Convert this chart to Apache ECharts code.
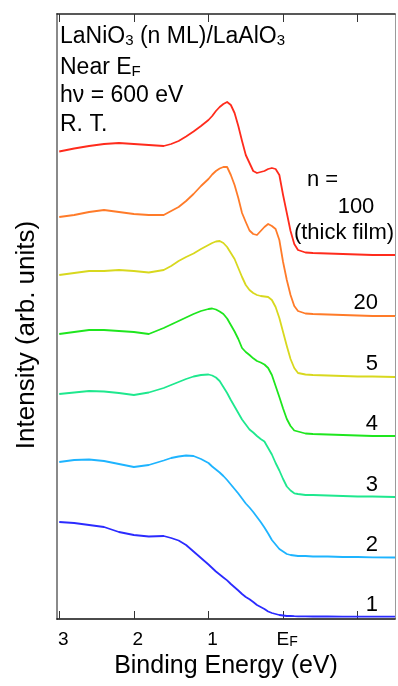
<!DOCTYPE html>
<html>
<head>
<meta charset="utf-8">
<title>LaNiO3 near EF</title>
<script src="https://cdn.jsdelivr.net/npm/echarts@6.0.0/dist/echarts.min.js"></script>
<style>
  html, body { margin: 0; padding: 0; background: #fff; }
  #chart { width: 398px; height: 686px; }
</style>
</head>
<body>
<div id="chart"></div>
<script>
// binding energy grid in eV (E_F = 0, negative = above E_F)
const energy = [3.0, 2.8, 2.6, 2.4, 2.2, 2.0, 1.8, 1.6, 1.5, 1.4, 1.3, 1.2, 1.1, 1.0, 0.95, 0.9, 0.85, 0.8, 0.75, 0.7,
  0.65, 0.6, 0.55, 0.5, 0.45, 0.4, 0.35, 0.3, 0.25, 0.2, 0.15, 0.1, 0.05, 0, -0.05, -0.1, -0.15, -0.2, -0.3, -0.4,
  -0.6, -0.8, -1.0, -1.2, -1.5];

// intensity (arb. units), curves already offset vertically
const n100 = [467.5, 470.5, 473, 475, 476, 475, 474, 473, 475, 478, 482.5, 487.5, 493, 499, 503, 508, 512, 515, 517, 514,
  506, 493, 478, 464, 456, 448, 446, 447, 448, 450, 451, 450, 444, 424, 406, 388, 375, 369, 366.5, 366,
  365.5, 365, 364.5, 364, 364];
const n20 = [402, 404, 407, 409, 407, 405, 404, 404, 408, 412, 418, 425, 433, 440, 444.5, 448, 450.5, 452, 452, 444,
  434, 421, 406, 397, 388.5, 385, 384, 388, 392, 395, 393, 390, 379, 357, 339, 324, 313, 308, 305.5, 305,
  304.5, 304, 303.5, 303, 303];
const n5 = [344, 346, 348, 348, 349, 348, 346.5, 349, 353, 358, 362, 365.5, 370, 374, 376, 377.5, 378, 376, 372, 366,
  360, 351, 342, 334, 329, 326, 324, 323, 322.5, 322, 319, 312, 301, 287, 273, 260, 251, 246, 244.5, 244,
  243.5, 243, 242.5, 242.5, 242];
const n4 = [285, 287, 289, 289, 288, 287, 285, 291, 294.5, 298, 301.5, 305, 308, 310, 310.5, 309.5, 307.5, 305, 300.5, 294,
  287.5, 280, 271, 267, 264, 260.7, 258, 256.5, 254.5, 251, 244, 233, 222, 210.5, 200, 193, 188.5, 187.5, 185.5, 185,
  184.5, 184, 183.5, 183, 183];
const n3 = [225, 226.5, 228, 227.5, 226, 224, 226.5, 231, 234, 237, 240, 242.5, 244, 244.5, 243.5, 241.5, 238, 232, 226, 219,
  212.5, 206, 199.5, 194.5, 189.5, 186.5, 183, 180, 177.5, 171, 164.5, 156, 148.5, 140, 132.5, 128.5, 125.7, 125, 124, 124,
  123.5, 123, 122.5, 122.5, 122];
const n2 = [157, 159, 159.5, 158, 155, 152, 154, 158.5, 161, 162.5, 163.5, 163, 160, 156, 152.5, 149.5, 146.5, 143, 139, 134.5,
  130, 125.5, 120.5, 115.5, 111.5, 107, 102, 97, 91.5, 85.5, 79, 74.5, 70, 67.5, 65, 64, 63.5, 63, 63, 62.5,
  62.5, 62, 62, 61.7, 61.5];
const n1 = [97, 96, 94, 92, 87, 84, 82.5, 83, 81, 78.5, 74, 67.5, 61, 54.5, 51, 47.5, 44.5, 41.5, 38.6, 35,
  31.8, 28.5, 25, 22, 19.7, 17, 14, 12, 10, 7.5, 6, 5, 4, 3.5, 3, 3, 2.8, 2.7, 2.6, 2.5,
  2.5, 2.4, 2.4, 2.3, 2.3];

const thickness = ['100', '20', '5', '4', '3', '2', '1'];
const spectra = [n100, n20, n5, n4, n3, n2, n1];
const lineColors = ['#ff2b1c', '#ff7b29', '#d8d81e', '#1ee61e', '#1ee88e', '#1eb4ff', '#2b2bff'];

// tick marks and tick labels on the energy axis
const tickValues = [3, 2, 1, 0, -1];
const labelValues = [3, 2, 1, 0];

const FAMILY = '"Liberation Sans", Arial, Helvetica, sans-serif';

let chart = echarts.init(document.getElementById('chart'), null, { renderer: 'canvas' });

function text(x, y, str, size, align, rich) {
  return {
    type: 'text', x: x, y: y, z: 100,
    style: {
      text: str, font: size + 'px ' + FAMILY, fill: '#000',
      textAlign: align, textVerticalAlign: 'middle', rich: rich
    }
  };
}

// subscript style (lowered, smaller)
const sub = {
  s: { fontSize: 15, fontFamily: FAMILY, lineHeight: 5, verticalAlign: 'bottom', color: '#000' }
};

function energyAxis(pos, showLabel) {
  return {
    type: 'value', position: pos, inverse: true,
    min: -1.5, max: 3.03,
    axisLine: { show: true, onZero: false, lineStyle: { color: pos === 'bottom' ? '#111' : '#222', width: 1.5 } },
    axisTick: { show: true, inside: true, length: 8, customValues: tickValues, lineStyle: { color: '#333', width: 1 } },
    axisLabel: {
      show: showLabel, customValues: labelValues, margin: 11, padding: [0, 0, 0, 8],
      fontSize: 19, fontFamily: FAMILY, color: '#000',
      formatter: function (v) { return v === 0 ? '{e|E}{f|F}' : String(v); },
      rich: {
        e: { fontSize: 19, fontFamily: FAMILY, color: '#000' },
        f: { fontSize: 14, fontFamily: FAMILY, color: '#000', lineHeight: 4, verticalAlign: 'bottom' }
      }
    },
    splitLine: { show: false },
    name: showLabel ? 'Binding Energy (eV)' : '',
    nameLocation: 'middle', nameGap: 46,
    nameTextStyle: { fontSize: 25, fontFamily: FAMILY, color: '#000', verticalAlign: 'middle' }
  };
}

function intensityAxis(pos, color, width) {
  return {
    type: 'value', position: pos, min: 0, max: 605,
    axisLine: { show: true, onZero: false, lineStyle: { color: color, width: width } },
    axisTick: { show: false }, axisLabel: { show: false }, splitLine: { show: false }
  };
}

const option = {
  animation: false,
  backgroundColor: '#fff',
  grid: { left: 57, right: 3, top: 14, bottom: 67 },
  xAxis: [energyAxis('bottom', true), energyAxis('top', false)],
  yAxis: [intensityAxis('left', '#8a8a8a', 2), intensityAxis('right', '#9a9a9a', 1)],
  series: thickness.map(function (n, i) {
    return {
      name: 'n = ' + n, type: 'line', xAxisIndex: 0, yAxisIndex: 0,
      data: energy.map(function (e, k) { return [e, spectra[i][k]]; }),
      symbol: 'none', smooth: false, silent: true,
      lineStyle: { color: lineColors[i], width: 1.8, join: 'round' },
      itemStyle: { color: lineColors[i] }
    };
  }),
  graphic: [
    text(60, 36.5, 'LaNiO{s|3} (n ML)/LaAlO{s|3}', 23, 'left', sub),
    text(60, 67.5, 'Near E{s|F}', 23, 'left', sub),
    text(60, 95.5, 'h\u03bd = 600 eV', 23, 'left'),
    text(60, 124.5, 'R. T.', 23, 'left'),
    // thickness labels
    text(307, 180, 'n =', 22, 'left'),
    text(356, 206.5, '100', 22, 'center'),
    text(344, 233, '(thick film)', 22, 'center'),
    text(378, 302.5, '20', 22, 'right'),
    text(378, 363.5, '5', 22, 'right'),
    text(378, 423.5, '4', 22, 'right'),
    text(378, 485, '3', 22, 'right'),
    text(378, 545, '2', 22, 'right'),
    text(378, 605, '1', 22, 'right'),
    {
      type: 'text', x: 27, y: 335, rotation: Math.PI / 2, z: 100,
      style: {
        text: 'Intensity (arb. units)', font: '26px ' + FAMILY, fill: '#000',
        textAlign: 'center', textVerticalAlign: 'middle'
      }
    }
  ]
};

chart.setOption(option);
</script>
</body>
</html>
